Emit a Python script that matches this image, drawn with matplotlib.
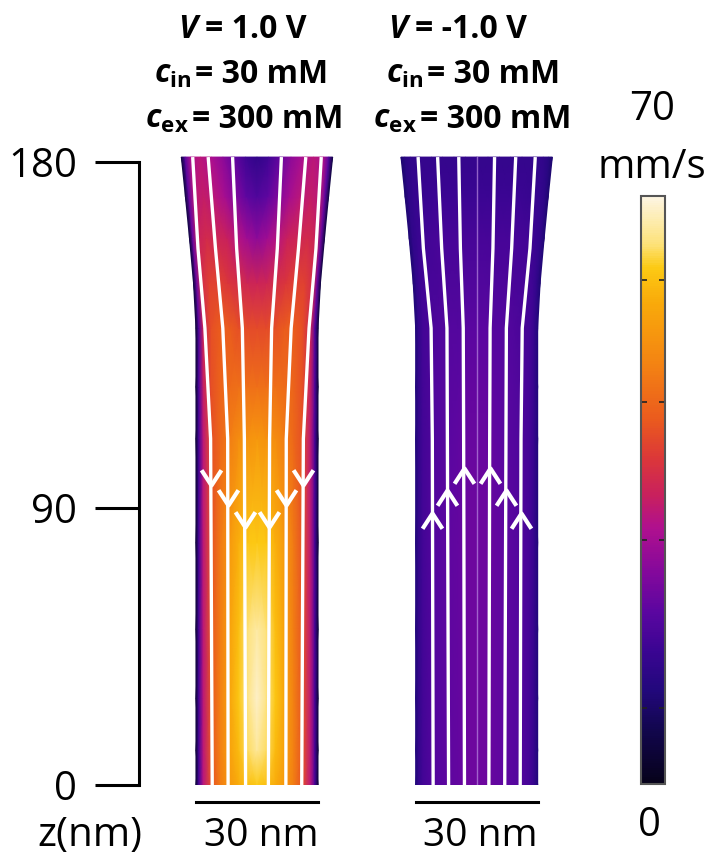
import numpy as np
import matplotlib
matplotlib.use("Agg")
import matplotlib.pyplot as plt
from matplotlib.colors import LinearSegmentedColormap, Normalize
from matplotlib.cm import ScalarMappable

plt.rcParams['font.family'] = ['Open Sans', 'DejaVu Sans']
plt.rcParams['mathtext.fontset'] = 'custom'
plt.rcParams['mathtext.rm'] = 'Open Sans'
plt.rcParams['mathtext.bf'] = 'Open Sans:bold'
plt.rcParams['mathtext.it'] = 'Open Sans:italic'
plt.rcParams['mathtext.bfit'] = 'Open Sans:italic:bold'

# pore geometry (nm)
pore_centers = [0, 54]
z_levels = [0, 10, 25, 45, 70, 100, 115, 132, 145, 158, 170, 181.4]
pore_radius = [15, 15, 15, 15, 15, 15, 15, 15, 15.6, 16.6, 17.6, 18.6]
r_frac = [0, 0.15, 0.3, 0.45, 0.6, 0.75, 0.88, 0.95, 1.0]

# speed (mm/s) along r_frac, one row per z level
speed_pos = [
    [61.5, 60, 57.5, 54, 49, 42, 31.5, 17.5, 4],
    [66, 63.5, 59.5, 55.5, 49.5, 42.5, 32, 18, 4],
    [68.5, 65, 61, 56, 49.5, 42.5, 32, 18, 4],
    [66.5, 64.5, 60, 55.5, 49, 42.5, 32, 18, 4],
    [61.5, 61, 58, 54, 48.5, 42, 32, 18, 4],
    [54, 53, 52, 49, 45.5, 42, 32, 18, 4],
    [47, 47, 47, 46, 45, 42, 33.5, 19, 4],
    [41.5, 41.5, 42, 43.5, 44, 42, 35, 19.5, 4],
    [35, 35.5, 37, 38.5, 40, 40, 36.5, 22.5, 5],
    [26.5, 28.5, 31.5, 34.5, 35.5, 36.5, 34.5, 22.5, 5],
    [19, 21, 25, 29.5, 32, 33.5, 32, 21.5, 5],
    [14, 16.5, 21.5, 26.5, 30, 32, 30, 19.5, 5],
]
speed_neg = [
    [22.5, 22.5, 21.5, 21, 20, 19, 17, 14.5, 11],
    [22.5, 22.5, 21.5, 21, 20, 19, 17, 14.5, 11],
    [22.5, 22.5, 21.5, 21, 20, 19, 17, 14.5, 11],
    [22.5, 22.5, 21.5, 21, 20, 19, 17, 14.5, 11],
    [22.5, 22.5, 21.5, 21, 20, 19, 17, 14.5, 11],
    [22, 22, 21, 20.5, 19.5, 18.5, 17, 14.5, 11],
    [21.5, 21.5, 20.5, 20, 19.5, 18.5, 17, 14.5, 11],
    [20.5, 20.5, 19.5, 19.5, 19, 18, 17, 14.5, 11],
    [19, 19, 18.5, 18.5, 18, 17.5, 16.5, 14, 10.5],
    [17.5, 17.5, 17.5, 17.5, 17.5, 17, 15.5, 14, 10.5],
    [16, 16, 16, 16, 16, 15.5, 15, 13.5, 10],
    [14.5, 14.5, 14.5, 14.5, 14.5, 14.5, 14, 12.5, 10],
]

# streamlines: distance from axis (nm) at line_z
line_z = [0, 100, 132, 155, 181.4]
lines_pos = [[2.8, 3.1, 3.6, 5.0, 6.0],
             [7.1, 7.2, 8.4, 10.2, 12.0],
             [11.0, 11.4, 12.8, 14.5, 15.8]]
lines_neg = [[3.0, 3.2, 3.3, 4.0, 4.4],
             [6.9, 7.2, 7.3, 8.6, 9.6],
             [10.7, 10.9, 11.2, 13.1, 14.4]]
# arrow tips
arrow_r_pos = [3.0, 7.2, 11.4]
arrow_z_pos = [74.5, 80.9, 86.7]
arrow_r_neg = [3.2, 7.2, 10.9]
arrow_z_neg = [91.6, 85.2, 78.6]

# title lines: symbol part, rest, x of "=" (px)
title_sym = [r'$\mathbfit{V}$', r'$\mathbfit{c}_{\mathbf{in}}$', r'$\mathbfit{c}_{\mathbf{ex}}$']
title_rest = [['= 1.0 V', '= 30 mM', '= 300 mM'],
              ['= -1.0 V', '= 30 mM', '= 300 mM']]
title_eq_x = [[205, 195, 192], [415, 427, 420]]

ytick_pos = [0, 80, 180]
ytick_labels = ['0', '90', '180']
cbar_ticks = [9, 29, 45.5, 60]
vmax = 70

cmap = LinearSegmentedColormap.from_list('flow', [
    (0.0, '#06021a'), (0.093, '#12064f'), (0.159, '#22087c'),
    (0.225, '#3a0592'), (0.29, '#5a06a0'), (0.357, '#82089c'),
    (0.436, '#b0108e'), (0.49, '#c8205e'), (0.556, '#dc3838'),
    (0.62, '#ea5a1e'), (0.72, '#f48512'), (0.82, '#f9aa0a'),
    (0.88, '#fcca14'), (0.92, '#fde27a'), (1.0, '#fdf5e2')])

W, H = 710, 858
fig = plt.figure(figsize=(W / 100, H / 100), dpi=100)
ax = fig.add_axes([139 / W, 1 - 785 / H, (580 - 139) / W, (785 - 155) / H])
ax.set_xlim(-29, 79.4)
ax.set_ylim(0, 182)

rf = np.array(r_frac)
rf_full = np.concatenate([-rf[::-1], rf[1:]])
zz = np.array(z_levels)
rad = np.array(pore_radius)
for c, speed in zip(pore_centers, [speed_pos, speed_neg]):
    sp = np.array(speed)
    sp_full = np.concatenate([sp[:, ::-1], sp[:, 1:]], axis=1)
    X = c + rf_full[None, :] * rad[:, None]
    Y = np.repeat(zz[:, None], len(rf_full), axis=1)
    ax.pcolormesh(X, Y, sp_full, shading='gouraud', cmap=cmap, vmin=0, vmax=vmax)

# streamlines
for c, lines in zip(pore_centers, [lines_pos, lines_neg]):
    for r in lines:
        r = np.array(r)
        ax.plot(c + r, line_z, color='white', lw=2.4, solid_capstyle='butt')
        ax.plot(c - r, line_z, color='white', lw=2.4, solid_capstyle='butt')
ax.plot([pore_centers[1]] * 2, [0, 181.4], color='#b98ae0', lw=1.0, alpha=0.7)

down = [(-0.65, 1), (0, 0), (0.65, 1)]
up = [(-0.65, -1), (0, 0), (0.65, -1)]
for c, rs, zs, mk in [(pore_centers[0], arrow_r_pos, arrow_z_pos, down),
                      (pore_centers[1], arrow_r_neg, arrow_z_neg, up)]:
    for r, z in zip(rs, zs):
        ax.plot([c - r, c + r], [z, z], ls='none', marker=mk, ms=22,
                mfc='none', mec='white', mew=3.0)

# scale bars
for c in pore_centers:
    ax.plot([c - 15, c + 15], [-4.9, -4.9], color='black', lw=2.2, clip_on=False)
    ax.text(c + 1, -14.7, '30 nm', ha='center', va='center', fontsize=28)

# axis
for s in ['top', 'right', 'bottom']:
    ax.spines[s].set_visible(False)
ax.spines['left'].set_bounds(0, 180)
ax.spines['left'].set_linewidth(2.2)
ax.set_xticks([])
ax.set_yticks(ytick_pos, ytick_labels)
ax.tick_params(axis='y', length=31.5, width=2.2, pad=13, labelsize=29)
fig.text(90 / W, 1 - 836 / H, 'z(nm)', ha='center', va='center', fontsize=29)

# titles
for p in range(2):
    for k in range(3):
        yb = 1 - (38 + 45 * k) / H
        xe = title_eq_x[p][k]
        fig.text((xe - 3) / W, yb, title_sym[k], ha='right', va='baseline', fontsize=23)
        fig.text(xe / W, yb, title_rest[p][k], ha='left', va='baseline',
                 fontsize=23, fontweight='bold')

# colorbar
cax = fig.add_axes([641 / W, 1 - 784 / H, 24 / W, 588 / H])
cb = fig.colorbar(ScalarMappable(Normalize(0, vmax), cmap), cax=cax)
cb.set_ticks(cbar_ticks)
cax.tick_params(direction='in', length=4, width=1.2, left=True, right=True,
                labelleft=False, labelright=False, color='#222222')
cb.outline.set_linewidth(1.5)
cb.outline.set_edgecolor('#555555')
fig.text(652 / W, 1 - 110 / H, '70', ha='center', va='center', fontsize=29)
fig.text(652 / W, 1 - 168 / H, 'mm/s', ha='center', va='center', fontsize=29)
fig.text(649 / W, 1 - 826 / H, '0', ha='center', va='center', fontsize=29)

fig.savefig('out.png', dpi=100)
